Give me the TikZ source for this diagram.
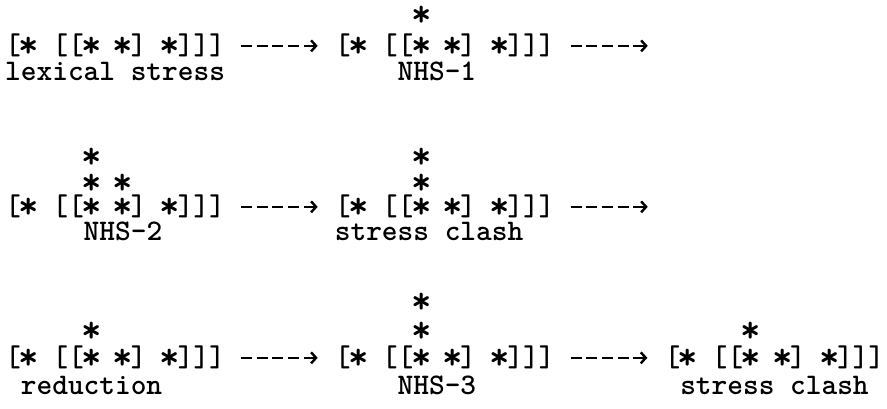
\documentclass[tikz,border=0pt]{standalone}
\usepackage{fontspec}
\usepackage{tikz}
\usetikzlibrary{arrows.meta,calc}

% typed asterisk: a bit larger, same column width
\newcommand\sx{\makebox[0.525em]{\raisebox{-0.09em}[0.5em][0em]{\scalebox{1.3}{*}}}}

\begin{document}
\begin{tikzpicture}[
    x=15.7pt, y=-1pt,
    typed/.style={anchor=base west, inner sep=0pt, font=\ttfamily\bfseries\fontsize{29.9pt}{30pt}\selectfont},
    arrow/.style={line width=2.6pt, dash pattern=on 11pt off 4.7pt, -{Straight Barb[length=5pt,width=11pt,line width=2.4pt]}, shorten <=15.7pt, shorten >=17pt}
]
\useasboundingbox (-0.32,0) rectangle (56.18,409);

% row 1
\node[typed] (s1) at (0,55) {[\sx{} [[\sx{} \sx] \sx]]]};
\node[typed] (l1) at (0,81) {lexical stress};
\node[typed] (s2) at (21,55) {[\sx{} [[\sx{} \sx] \sx]]]};
\node[typed] (m2) at (26,24) {\sx};
\node[typed] (l2) at (25,81) {NHS-1};
\coordinate (e1) at ($(s2.east)+(7,0)$);
\draw[arrow] (s1) -- (s2);
\draw[arrow] (s2.east) -- (e1);

% row 2
\node[typed] (s3) at (0,216) {[\sx{} [[\sx{} \sx] \sx]]]};
\node[typed] (m3a) at (5,166) {\sx};
\node[typed] (m3b) at (5,192) {\sx{} \sx};
\node[typed] (l3) at (5,241) {NHS-2};
\node[typed] (s4) at (21,216) {[\sx{} [[\sx{} \sx] \sx]]]};
\node[typed] (m4a) at (26,166) {\sx};
\node[typed] (m4b) at (26,192) {\sx};
\node[typed] (l4) at (21,241) {stress clash};
\coordinate (e2) at ($(s4.east)+(7,0)$);
\draw[arrow] (s3) -- (s4);
\draw[arrow] (s4.east) -- (e2);

% row 3
\node[typed] (s5) at (0,367) {[\sx{} [[\sx{} \sx] \sx]]]};
\node[typed] (m5) at (5,340) {\sx};
\node[typed] (l5) at (1,395) {reduction};
\node[typed] (s6) at (21,367) {[\sx{} [[\sx{} \sx] \sx]]]};
\node[typed] (m6a) at (26,311) {\sx};
\node[typed] (m6b) at (26,340) {\sx};
\node[typed] (l6) at (25,395) {NHS-3};
\node[typed] (s7) at (42,367) {[\sx{} [[\sx{} \sx] \sx]]]};
\node[typed] (m7) at (47,340) {\sx};
\node[typed] (l7) at (43,395) {stress clash};
\draw[arrow] (s5) -- (s6);
\draw[arrow] (s6) -- (s7);
\end{tikzpicture}
\end{document}
